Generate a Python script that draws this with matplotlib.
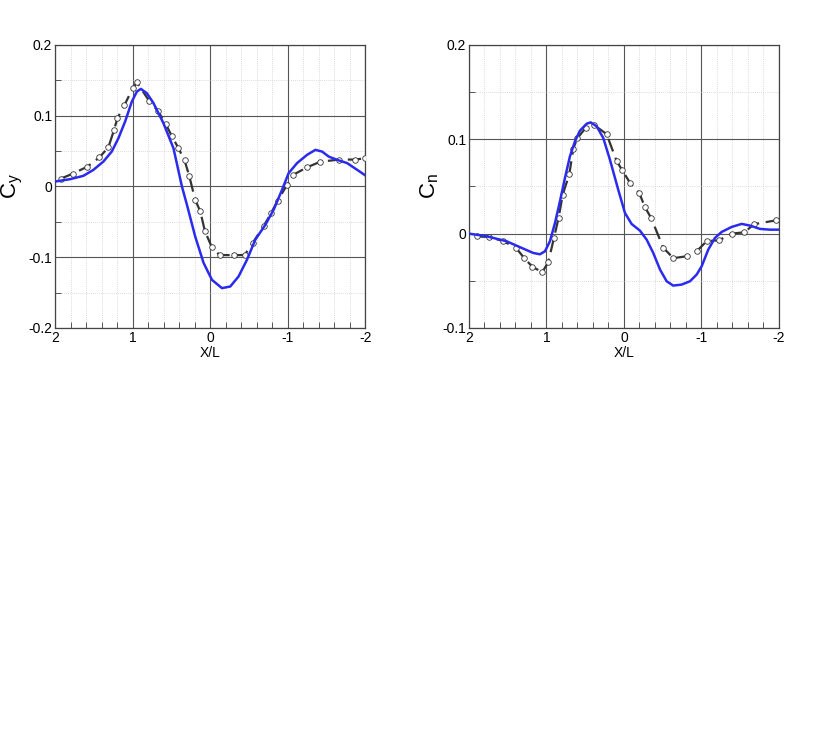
import matplotlib
matplotlib.use("Agg")
import matplotlib.pyplot as plt
from matplotlib.ticker import MultipleLocator, FuncFormatter

# ---------------- data ----------------
# lateral force coefficient Cy: CFD (solid) and experiment (dashed + circles)
cy_cfd_x = [2.0, 1.806, 1.635, 1.506, 1.377, 1.269, 1.183, 1.097, 1.01, 0.946, 0.894,
            0.817, 0.731, 0.603, 0.474, 0.365, 0.30, 0.194, 0.086, -0.022, -0.151,
            -0.258, -0.365, -0.473, -0.58, -0.71, -0.817, -0.925, -1.01, -1.119,
            -1.248, -1.355, -1.441, -1.527, -1.635, -1.764, -1.893, -2.0]
cy_cfd_y = [0.0069, 0.0103, 0.015, 0.0234, 0.0352, 0.0493, 0.0682, 0.0917, 0.120, 0.134,
            0.1379, 0.1318, 0.1177, 0.0894, 0.0541, 0.0, -0.026, -0.0707, -0.108, -0.132,
            -0.1437, -0.1414, -0.1272, -0.1037, -0.0754, -0.0542, -0.033, -0.0048, 0.0188,
            0.033, 0.0447, 0.0517, 0.0493, 0.0422, 0.0376, 0.033, 0.0235, 0.0155]

cy_exp_x = [1.927, 1.772, 1.583, 1.428, 1.312, 1.239, 1.196, 1.105, 0.998, 0.946, 0.787,
            0.675, 0.572, 0.495, 0.409, 0.331, 0.271, 0.194, 0.129, 0.069, -0.017, -0.12,
            -0.30, -0.443, -0.546, -0.688, -0.783, -0.869, -0.989, -1.062, -1.247,
            -1.419, -1.665, -1.871, -2.0]
cy_exp_y = [0.011, 0.018, 0.028, 0.041, 0.0555, 0.080, 0.0965, 0.115, 0.139, 0.147, 0.121,
            0.107, 0.088, 0.071, 0.054, 0.037, 0.015, -0.019, -0.035, -0.063, -0.085,
            -0.097, -0.097, -0.097, -0.080, -0.056, -0.038, -0.020, 0.002, 0.016, 0.027,
            0.035, 0.038, 0.038, 0.040]

# yawing moment coefficient Cn
cn_cfd_x = [2.0, 1.772, 1.514, 1.299, 1.17, 1.084, 1.019, 0.955, 0.890, 0.826, 0.761,
            0.697, 0.632, 0.568, 0.481, 0.430, 0.352, 0.267, 0.181, 0.074, -0.013,
            -0.099, -0.206, -0.293, -0.378, -0.465, -0.551, -0.636, -0.745, -0.852,
            -0.938, -1.003, -1.088, -1.174, -1.261, -1.39, -1.519, -1.626, -1.755,
            -1.884, -2.0]
cn_cfd_y = [0.0, -0.0028, -0.0081, -0.0159, -0.0205, -0.0219, -0.0187, -0.0081, 0.0113,
            0.0342, 0.059, 0.0819, 0.0978, 0.1091, 0.1165, 0.1179, 0.1137, 0.1014, 0.0784,
            0.0466, 0.0219, 0.0102, 0.0032, -0.0064, -0.0205, -0.038, -0.0505, -0.0551,
            -0.054, -0.0505, -0.0434, -0.0346, -0.0169, -0.0046, 0.0018, 0.0071, 0.0103,
            0.0085, 0.005, 0.0042, 0.0042]

cn_exp_x = [1.90, 1.742, 1.557, 1.394, 1.286, 1.183, 1.054, 0.976, 0.903, 0.843, 0.791,
            0.705, 0.654, 0.602, 0.495, 0.383, 0.224, 0.095, 0.021, -0.077, -0.198,
            -0.271, -0.348, -0.508, -0.637, -0.809, -0.938, -1.067, -1.230, -1.39,
            -1.553, -1.68, -1.957]
cn_exp_y = [-0.003, -0.0035, -0.008, -0.015, -0.026, -0.035, -0.041, -0.030, -0.0046,
            0.017, 0.041, 0.063, 0.090, 0.101, 0.112, 0.115, 0.1055, 0.077, 0.067, 0.054,
            0.043, 0.028, 0.017, -0.015, -0.026, -0.024, -0.0187, -0.008, -0.007, 0.0,
            0.0014, 0.010, 0.014]

# ---------------- style ----------------
plt.rcParams.update({
    "font.family": ["Liberation Sans", "DejaVu Sans"],
    "font.size": 10,
    "mathtext.fontset": "custom",
    "mathtext.rm": "Liberation Sans",
    "mathtext.it": "Liberation Sans",
})

BLUE = "#2b2bf0"
EXP = "#333333"


def fmt(v, pos):
    if abs(v) < 1e-9:
        return "0"
    return f"{v:g}"


def style_axes(ax, ylim, ylabel, label_x):
    ax.set_xlim(2, -2)
    ax.set_ylim(*ylim)
    ax.xaxis.set_major_locator(MultipleLocator(1))
    ax.xaxis.set_minor_locator(MultipleLocator(0.2))
    ax.yaxis.set_major_locator(MultipleLocator(0.1))
    ax.yaxis.set_minor_locator(MultipleLocator(0.05))
    ax.xaxis.set_major_formatter(FuncFormatter(fmt))
    ax.yaxis.set_major_formatter(FuncFormatter(fmt))
    ax.grid(which="major", color="#555555", linewidth=0.8, linestyle="-", zorder=1)
    ax.grid(which="minor", color="#cfcfcf", linewidth=0.6, linestyle=(0, (1, 1.5)), zorder=0)
    ax.tick_params(which="both", direction="in", top=False, right=False,
                   labelsize=10, pad=2, width=0.7, color="#555555")
    ax.tick_params(which="major", length=5)
    ax.tick_params(which="minor", length=4)
    for sp in ax.spines.values():
        sp.set_linewidth(0.9)
        sp.set_edgecolor("#444444")
    ax.set_xlabel("X/L", fontsize=10, labelpad=1)
    ax.set_ylabel(ylabel, fontsize=16)
    ax.yaxis.set_label_coords(label_x, 0.5)
    ax.set_axisbelow(True)


fig = plt.figure(figsize=(8.30, 7.39), dpi=100)

ax1 = fig.add_axes([0.0663, 0.5562, 0.374, 0.383])
ax2 = fig.add_axes([0.565, 0.5562, 0.3735, 0.383])

for ax, ex, ey, cx, cy in [(ax1, cy_exp_x, cy_exp_y, cy_cfd_x, cy_cfd_y),
                           (ax2, cn_exp_x, cn_exp_y, cn_cfd_x, cn_cfd_y)]:
    ax.plot(ex, ey, color=EXP, linewidth=1.6, linestyle=(0, (6, 3)),
            marker="o", markersize=4, markerfacecolor="white",
            markeredgecolor=EXP, markeredgewidth=0.6, zorder=3)
    ax.plot(cx, cy, color=BLUE, linewidth=1.8, zorder=4)

style_axes(ax1, (-0.2, 0.2), r"$\mathrm{C_y}$", -0.097)
style_axes(ax2, (-0.1, 0.2), r"$\mathrm{C_n}$", -0.09)

fig.savefig("out.png", dpi=100, facecolor="white")
